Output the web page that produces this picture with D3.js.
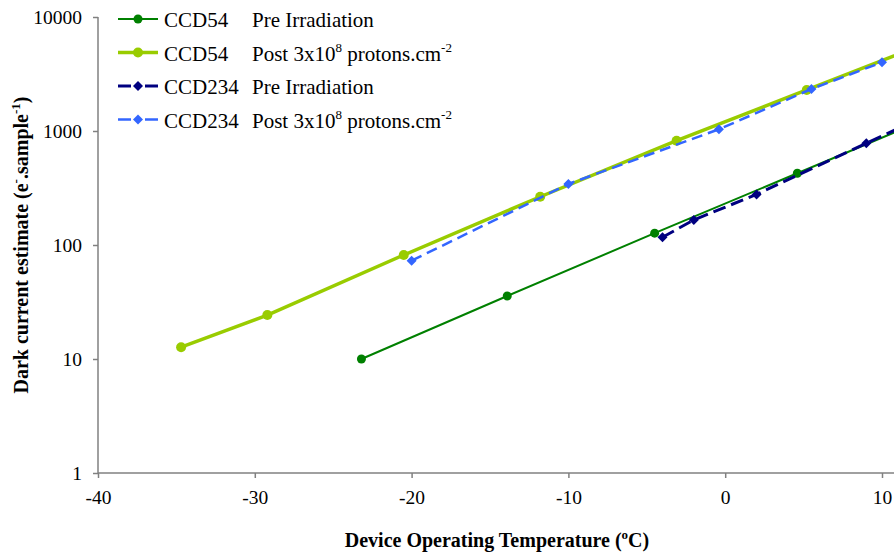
<!DOCTYPE html>
<html><head><meta charset="utf-8">
<script src="https://cdn.jsdelivr.net/npm/d3@7"></script>
<style>body{margin:0;background:#fff}svg{display:block}text{font-family:"Liberation Serif","Times New Roman",serif;fill:#000}</style>
</head><body>
<svg id="c" width="894" height="554"></svg>
<script>
// ---- data ----
const ccd54PreT   = [-23.2, -13.9, -4.5, 4.6, 13.8];
const ccd54PreV   = [10.0, 35.7, 127, 426, 1450];
const ccd54PostT  = [-34.7, -29.2, -20.5, -11.8, -3.1, 5.2, 13.5];
const ccd54PostV  = [12.7, 24.3, 81.7, 265, 822, 2290, 6400];
const ccd234PreT  = [-4.0, -2.0, 2.0, 9.0, 13.0];
const ccd234PreV  = [117, 166, 278, 780, 1400];
const ccd234PostT = [-20.0, -10.0, -0.4, 5.5, 10.0];
const ccd234PostV = [72.8, 343, 1035, 2335, 4005];
const xTicks = [-40, -30, -20, -10, 0, 10];
const yTicks = [1, 10, 100, 1000, 10000];
const seriesNames = ["CCD54", "CCD54", "CCD234", "CCD234"];
const seriesDesc = ["Pre Irradiation", "Post", "Pre Irradiation", "Post"];

const series = [
  {T: ccd54PreT, V: ccd54PreV, color: "#008000", w: 2, dash: null, marker: "circle", r: 4.5},
  {T: ccd54PostT, V: ccd54PostV, color: "#99CC00", w: 3.5, dash: null, marker: "circle", r: 5},
  {T: ccd234PreT, V: ccd234PreV, color: "#000080", w: 3, dash: "13,6", marker: "diamond", r: 5},
  {T: ccd234PostT, V: ccd234PostV, color: "#3366FF", w: 2.5, dash: "11,6", marker: "diamond", r: 5}
];

const FONT = '"Liberation Serif","Times New Roman",serif';
const svg = d3.select("#c");
const x = d3.scaleLinear().domain([-40, 10]).range([98, 882]);
const y = d3.scaleLog().domain([1, 10000]).range([473, 17]);

// axes
const axisColor = "#808080";
svg.append("line").attr("x1", 98).attr("x2", 900).attr("y1", 473).attr("y2", 473)
  .attr("stroke", axisColor).attr("stroke-width", 1.5);
svg.append("line").attr("x1", 98).attr("x2", 98).attr("y1", 17).attr("y2", 473)
  .attr("stroke", axisColor).attr("stroke-width", 1.5);

const xa = svg.append("g").attr("transform", "translate(0,473)")
  .call(d3.axisBottom(x).tickValues(xTicks).tickSize(5).tickPadding(12).tickFormat(d => String(d)));
xa.attr("font-family", null).attr("font-size", null);
xa.select(".domain").remove();
xa.selectAll("line").attr("stroke", axisColor).attr("stroke-width", 1.5);
xa.selectAll("text").style("font-family", FONT).style("font-size", "19.5px");

const ya = svg.append("g").attr("transform", "translate(98,0)")
  .call(d3.axisLeft(y).tickValues(yTicks).tickSize(5).tickPadding(11).tickFormat(d => String(d)));
ya.attr("font-family", null).attr("font-size", null);
ya.select(".domain").remove();
ya.selectAll("line").attr("stroke", axisColor).attr("stroke-width", 1.5);
ya.selectAll("text").style("font-family", FONT).style("font-size", "19.5px");

// titles
const xt = svg.append("text").attr("x", 497).attr("y", 547).attr("text-anchor", "middle")
  .attr("font-size", 20).attr("font-weight", "bold");
xt.append("tspan").text("Device Operating Temperature (");
xt.append("tspan").attr("font-size", 13).attr("dy", -8).text("o");
xt.append("tspan").attr("dy", 8).text("C)");

const yt = svg.append("text").attr("transform", "translate(28,245) rotate(-90)").attr("text-anchor", "middle")
  .attr("font-size", 20).attr("font-weight", "bold");
yt.append("tspan").text("Dark current estimate (e");
yt.append("tspan").attr("font-size", 13).attr("dy", -8).text("-");
yt.append("tspan").attr("dy", 8).text(".sample");
yt.append("tspan").attr("font-size", 13).attr("dy", -8).text("-1");
yt.append("tspan").attr("dy", 8).text(")");

function drawMarker(g, s, cx, cy) {
  if (s.marker === "circle") {
    g.append("circle").attr("cx", cx).attr("cy", cy).attr("r", s.r).attr("fill", s.color);
  } else {
    g.append("path").attr("d", d3.symbol().type(d3.symbolSquare).size(s.r * s.r * 2)())
      .attr("transform", `translate(${cx},${cy}) rotate(45)`).attr("fill", s.color);
  }
}

// lines
const line = d3.line().x(d => x(d[0])).y(d => y(d[1]));
const order = [1, 0, 3, 2];
order.forEach(i => {
  const s = series[i];
  const pts = s.T.map((t, k) => [t, s.V[k]]);
  const g = svg.append("g");
  g.append("path").attr("d", line(pts)).attr("fill", "none").attr("stroke", s.color)
    .attr("stroke-width", s.w).attr("stroke-dasharray", s.dash);
  pts.forEach(p => drawMarker(g, s, x(p[0]), y(p[1])));
});

// legend
const rowsY = [19, 52.5, 86, 119.5];
series.forEach((s, i) => {
  const g = svg.append("g");
  const cy = rowsY[i];
  if (s.dash) {
    g.append("line").attr("x1", 118).attr("x2", 131).attr("y1", cy).attr("y2", cy).attr("stroke", s.color).attr("stroke-width", s.w);
    g.append("line").attr("x1", 145).attr("x2", 158).attr("y1", cy).attr("y2", cy).attr("stroke", s.color).attr("stroke-width", s.w);
  } else {
    g.append("line").attr("x1", 118).attr("x2", 158).attr("y1", cy).attr("y2", cy).attr("stroke", s.color).attr("stroke-width", s.w);
  }
  drawMarker(g, s, 138, cy);
  g.append("text").attr("x", 164).attr("y", cy + 8).attr("font-size", 21).text(seriesNames[i]);
  const t = g.append("text").attr("x", 252).attr("y", cy + 8).attr("font-size", 21);
  t.append("tspan").text(seriesDesc[i]);
  if (seriesDesc[i] === "Post") {
    t.append("tspan").text(" 3x10");
    t.append("tspan").attr("font-size", 13).attr("dy", -9).text("8");
    t.append("tspan").attr("dy", 9).text(" protons.cm");
    t.append("tspan").attr("font-size", 13).attr("dy", -9).text("-2");
  }
});
</script>
</body></html>
